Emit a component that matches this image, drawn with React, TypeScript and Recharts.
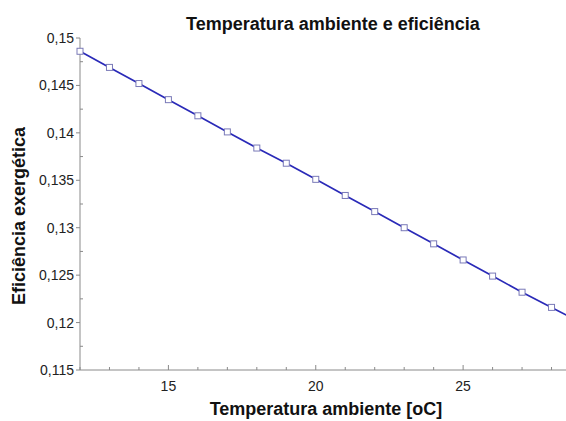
import React from "react";
import { LineChart, Line, XAxis, YAxis } from "recharts";

const temps = [12, 13, 14, 15, 16, 17, 18, 19, 20, 21, 22, 23, 24, 25, 26, 27, 28];
const efficiency = [
  0.1486, 0.1469, 0.1452, 0.1435, 0.1418, 0.1401, 0.1384, 0.1368, 0.1351,
  0.1334, 0.1317, 0.13, 0.1283, 0.1266, 0.1249, 0.1232, 0.1216,
];
// line continues past the last marker to the cropped right edge
const lineEndTemp = 28.5;
const lineEndEff = 0.1208;

const xTicks = [12, 13, 14, 15, 16, 17, 18, 19, 20, 21, 22, 23, 24, 25, 26, 27, 28, 29];
const xMajor = [15, 20, 25];
const yTicks = [
  0.115, 0.1175, 0.12, 0.1225, 0.125, 0.1275, 0.13, 0.1325, 0.135, 0.1375,
  0.14, 0.1425, 0.145, 0.1475, 0.15,
];
const yMajor = [0.115, 0.12, 0.125, 0.13, 0.135, 0.14, 0.145, 0.15];

const title = "Temperatura ambiente e eficiência";
const xTitle = "Temperatura ambiente [oC]";
const yTitle = "Eficiência exergética";

const data = [
  ...temps.map((t, i) => ({ t, e: efficiency[i], m: true })),
  { t: lineEndTemp, e: lineEndEff, m: false },
];

const AXIS = "#8a8a8a";
const FONT = "Liberation Sans, Arial, sans-serif";

const isMajorY = (v: number) => yMajor.some((m) => Math.abs(m - v) < 1e-7);
const fmtY = (v: number) => String(Number(v.toFixed(4))).replace(".", ",");

const XBottomTick = (props: any) => {
  const { x, y, payload } = props;
  const v = payload.value;
  const major = xMajor.includes(v);
  return (
    <g>
      <line x1={x} x2={x} y1={y} y2={y - (major ? 5 : 3)} stroke={AXIS} />
      {major && (
        <text x={x} y={y + 21} textAnchor="middle" fontSize={14} fontFamily={FONT} fill="#222">
          {v}
        </text>
      )}
    </g>
  );
};

const XTopTick = (props: any) => {
  const { x, y, payload } = props;
  const v = payload.value;
  const major = xMajor.includes(v);
  return <line x1={x} x2={x} y1={y} y2={y + (major ? 5 : 3)} stroke={AXIS} />;
};

const YTick = (props: any) => {
  const { x, y, payload } = props;
  const v = payload.value;
  const major = isMajorY(v);
  return (
    <g>
      {major ? (
        <line x1={x - 4} x2={x} y1={y} y2={y} stroke={AXIS} />
      ) : (
        <line x1={x} x2={x + 3} y1={y} y2={y} stroke={AXIS} />
      )}
      {major && (
        <text x={x - 6} y={y + 5} textAnchor="end" fontSize={14} fontFamily={FONT} fill="#222">
          {fmtY(v)}
        </text>
      )}
    </g>
  );
};

const renderDot = (props: any) => {
  const { cx, cy, payload, index } = props;
  if (!payload.m) return <g key={`d${index}`} />;
  return (
    <rect
      key={`d${index}`}
      x={cx - 3}
      y={cy - 3}
      width={6}
      height={6}
      fill="#ffffff"
      stroke="#7a7ab8"
      strokeWidth={1}
    />
  );
};

export default function App() {
  return (
    <div
      style={{
        position: "absolute",
        left: 0,
        top: 0,
        width: 566,
        height: 421,
        overflow: "hidden",
        background: "#fff",
      }}
    >
      <LineChart
        width={600}
        height={421}
        data={data}
        margin={{ top: 38, right: 19, bottom: 0, left: 0 }}
      >
        <XAxis
          xAxisId="b"
          dataKey="t"
          type="number"
          domain={[12, 29]}
          ticks={xTicks}
          interval={0}
          tickSize={0}
          tickMargin={0}
          tick={<XBottomTick />}
          stroke={AXIS}
          height={51}
        />
        <XAxis
          xAxisId="t"
          orientation="top"
          dataKey="t"
          type="number"
          domain={[12, 29]}
          ticks={xTicks}
          interval={0}
          tickSize={0}
          tickMargin={0}
          tick={<XTopTick />}
          stroke={AXIS}
          height={0}
        />
        <YAxis
          yAxisId="l"
          type="number"
          domain={[0.115, 0.15]}
          ticks={yTicks}
          interval={0}
          width={80}
          tickSize={0}
          tickMargin={0}
          tick={<YTick />}
          stroke={AXIS}
        />
        <Line
          xAxisId="b"
          yAxisId="l"
          dataKey="e"
          stroke="#2a2ab8"
          strokeWidth={1.7}
          dot={renderDot}
          activeDot={false}
          isAnimationActive={false}
        />
      </LineChart>
      <svg
        width={566}
        height={421}
        style={{ position: "absolute", left: 0, top: 0, pointerEvents: "none" }}
      >
        <text x={333} y={30} textAnchor="middle" fontSize={18} fontWeight="bold" fontFamily={FONT} fill="#111">
          {title}
        </text>
        <text x={326} y={415} textAnchor="middle" fontSize={18} fontWeight="bold" fontFamily={FONT} fill="#111">
          {xTitle}
        </text>
        <text
          x={25}
          y={216}
          textAnchor="middle"
          fontSize={18}
          fontWeight="bold"
          fontFamily={FONT}
          fill="#111"
          transform="rotate(-90 25 216)"
        >
          {yTitle}
        </text>
      </svg>
    </div>
  );
}
